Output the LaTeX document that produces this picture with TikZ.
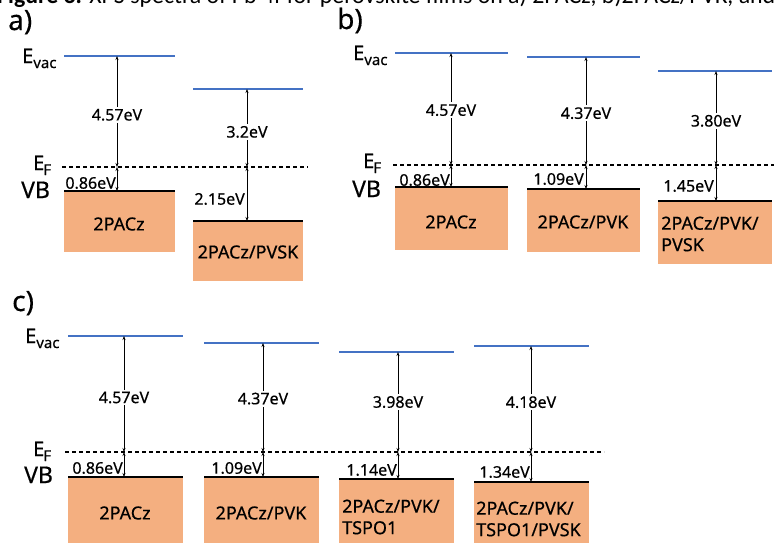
\documentclass[tikz,border=0pt]{standalone}
\usepackage{graphicx}
\usepackage{fontspec}
\setmainfont{Noto Sans}[FakeBold=0.4]
\newfontfamily\capfont{Carlito}
\usetikzlibrary{arrows.meta}
\definecolor{vacblue}{HTML}{4472C4}
\definecolor{vborange}{HTML}{F4AF80}
\newcommand\levelcol[8]{%
  \draw[vac] (#2,#4) coordinate (#1vl) -- (#3,#4) coordinate (#1vr);
  \fill[band] (#2,#5) rectangle (#3,#6);
  \draw[vbline] (#2,#5) coordinate (#1bl) -- (#3,#5) coordinate (#1br);
  \coordinate (#1v) at (#7,#4);
  \coordinate (#1f) at (#7,#8);
  \coordinate (#1b) at (#7,#5);
}
\newcommand\Evac{E\raisebox{-5pt}{\fontsize{15}{15}\selectfont vac}}
\newcommand\Ef{E\kern-1pt\raisebox{-5pt}{\fontsize{15}{15}\selectfont F}}
\begin{document}
\begin{tikzpicture}[x=1pt,y=-1pt,
  vac/.style={draw=vacblue,line width=1.6pt},
  vbline/.style={draw=black,line width=2pt},
  band/.style={fill=vborange,draw=none},
  fermi/.style={draw=black,line width=1.2pt,dash pattern=on 4pt off 3pt},
  gap/.style={{Stealth[length=4pt,width=3pt]}-{Stealth[length=4pt,width=3pt]},line width=0.8pt},
  lab/.style={fill=white,inner xsep=1pt,inner ysep=2pt,font=\fontsize{16}{18}\selectfont},
  slab/.style={anchor=east,inner sep=0pt,font=\fontsize{16}{18}\selectfont},
  boxlab/.style={font=\fontsize{18}{21.5}\selectfont,align=left,inner sep=0pt},
  panel/.style={anchor=base west,font=\fontsize{28}{30}\selectfont,inner sep=0pt},
  side/.style={anchor=base west,font=\fontsize{20}{24}\selectfont,inner sep=0pt},
  sidevb/.style={anchor=base west,font=\fontsize{23}{24}\selectfont,inner sep=0pt}]
\useasboundingbox (0,0) rectangle (774,542);
\clip (0,0) rectangle (774,542);
\fill[white] (0,0) rectangle (774,542);

% caption (clipped at top)
\node[anchor=base west,inner sep=0pt] (cap) at (-3,3)
  {\resizebox{778pt}{!}{\capfont\textbf{Figure 3.} XPS spectra of Pb 4f for perovskite films on a) 2PACz, b)2PACz/PVK, and}};

% ---------------- panel a ----------------
\node[panel] (pa) at (8,30) {a)};
\node[side] (aEvac) at (22,63) {\Evac};
\node[side] (aEf) at (33,170) {\Ef};
\node[sidevb] (aVB) at (21,198) {VB};
\levelcol{a1}{64}{175}{56}{191}{252}{117}{167}
\levelcol{a2}{193}{303}{89}{221}{281}{247}{167}
\coordinate (aefl) at (62,167);
\coordinate (aefr) at (308,167);
\draw[fermi] (aefl) -- (aefr);
\draw[gap] (a1v) -- node[lab,pos=.53] (a1g) {4.57eV} (a1f);
\draw[gap] (a1f) -- (a1b);
\draw[gap] (a2v) -- node[lab,pos=.55] (a2g) {3.2eV} (a2f);
\draw[gap] (a2f) -- (a2b);
\node[slab] (a1s) at (116,183) {0.86eV};
\node[slab] (a2s) at (245,199) {2.15eV};
\node[boxlab] (a1t) at (119,224) {2PACz};
\node[boxlab] (a2t) at (248,252) {2PACz/PVSK};

% ---------------- panel b ----------------
\node[panel] (pb) at (337,29) {b)};
\node[side] (bEvac) at (353,60) {\Evac};
\node[side] (bEf) at (363,168) {\Ef};
\node[sidevb] (bVB) at (352,197) {VB};
\levelcol{b1}{395}{508}{53}{187}{250}{451}{165}
\levelcol{b2}{527}{640}{57}{189}{252}{586}{165}
\levelcol{b3}{658}{772}{71}{201}{264}{716}{165}
\coordinate (befl) at (393,165);
\coordinate (befr) at (776,165);
\draw[fermi] (befl) -- (befr);
\draw[gap] (b1v) -- node[lab,pos=.51] (b1g) {4.57eV} (b1f);
\draw[gap] (b1f) -- (b1b);
\draw[gap] (b2v) -- node[lab,pos=.52] (b2g) {4.37eV} (b2f);
\draw[gap] (b2f) -- (b2b);
\draw[gap] (b3v) -- node[lab,pos=.53] (b3g) {3.80eV} (b3f);
\draw[gap] (b3f) -- (b3b);
\node[slab] (b1s) at (450,180) {0.86eV};
\node[slab] (b2s) at (584,179) {1.09eV};
\node[slab] (b3s) at (714,186) {1.45eV};
\node[boxlab] (b1t) at (451,222) {2PACz};
\node[boxlab] (b2t) at (583,222) {2PACz/PVK};
\node[boxlab,anchor=west] (b3t) at (661,234) {2PACz/PVK/\\PVSK};

% ---------------- panel c ----------------
\node[panel] (pc) at (12,311) {c)};
\node[side] (cEvac) at (25,343) {\Evac};
\node[side] (cEf) at (33,456) {\Ef};
\node[sidevb] (cVB) at (24,483) {VB};
\levelcol{c1}{68}{183}{336}{477}{545}{124}{452}
\levelcol{c2}{204}{319}{343}{477}{545}{263}{452}
\levelcol{c3}{339}{454}{352}{479}{545}{398}{452}
\levelcol{c4}{474}{589}{346}{482}{545}{531}{452}
\coordinate (cefl) at (65,452);
\coordinate (cefr) at (604,452);
\draw[fermi] (cefl) -- (cefr);
\draw[gap] (c1v) -- node[lab,pos=.53] (c1g) {4.57eV} (c1f);
\draw[gap] (c1f) -- (c1b);
\draw[gap] (c2v) -- node[lab,pos=.51] (c2g) {4.37eV} (c2f);
\draw[gap] (c2f) -- (c2b);
\draw[gap] (c3v) -- node[lab,pos=.5] (c3g) {3.98eV} (c3f);
\draw[gap] (c3f) -- (c3b);
\draw[gap] (c4v) -- node[lab,pos=.53] (c4g) {4.18eV} (c4f);
\draw[gap] (c4f) -- (c4b);
\node[slab] (c1s) at (123,468) {0.86eV};
\node[slab] (c2s) at (262,468) {1.09eV};
\node[slab] (c3s) at (397,470) {1.14eV};
\node[slab] (c4s) at (530,472) {1.34eV};
\node[boxlab] (c1t) at (125,513) {2PACz};
\node[boxlab] (c2t) at (261,513) {2PACz/PVK};
\node[boxlab,anchor=west] (c3t) at (342,517) {2PACz/PVK/\\TSPO1};
\node[boxlab,anchor=west] (c4t) at (476,519) {2PACz/PVK/\\TSPO1/PVSK};
\end{tikzpicture}
\end{document}
